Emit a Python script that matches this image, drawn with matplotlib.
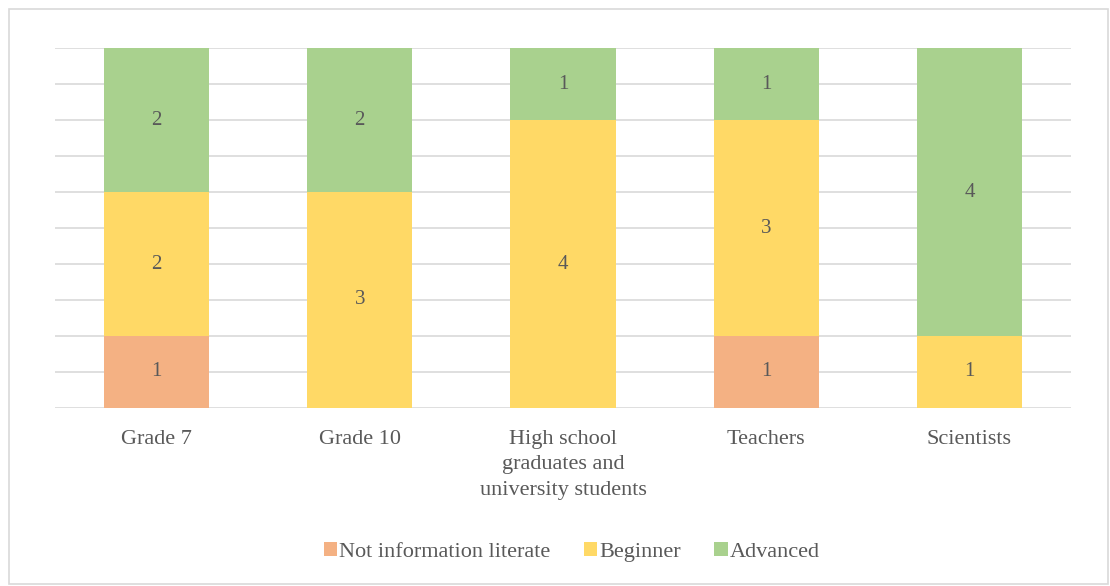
import numpy as np
import matplotlib.pyplot as plt
from matplotlib.patches import Rectangle

categories = ["Grade 7", "Grade 10", "High school\ngraduates and\nuniversity students",
              "Teachers", "Scientists"]
not_literate = [1, 0, 0, 1, 0]
beginner = [2, 3, 4, 3, 1]
advanced = [2, 2, 1, 1, 4]

series = [("Not information literate", not_literate, "#F4B183"),
          ("Beginner", beginner, "#FFD966"),
          ("Advanced", advanced, "#A9D18E")]

text_col = "#595959"
plt.rcParams['font.family'] = ['Liberation Serif', 'DejaVu Serif']

fig = plt.figure(figsize=(11.1, 5.86), dpi=100)
ax = fig.add_axes([0.0495, 0.3038, 0.9154, 0.6142])

# outer chart border
fig.patches.append(Rectangle((9/1110, 2/586), 1099/1110, 575/586, transform=fig.transFigure,
                             fill=False, edgecolor="#D9D9D9", linewidth=1.2))

x = np.arange(len(categories))
bottom = np.zeros(len(categories))
for name, vals, col in series:
    vals = np.array(vals, dtype=float)
    bars = ax.bar(x, vals, 0.517, bottom=bottom, color=col, label=name, zorder=2)
    for xi, b, v in zip(x, bottom, vals):
        if v > 0:
            ax.text(xi, b + v / 2, f"{int(v)}", ha="center", va="center",
                    fontsize=15, color=text_col, zorder=3)
    bottom += vals

ax.set_xlim(-0.5, 4.5)
ax.set_ylim(0, 5)
ax.set_yticks(np.arange(0, 5.01, 0.5))
ax.yaxis.grid(True, color="#D9D9D9", linewidth=1.2, zorder=0)
ax.set_axisbelow(True)
ax.tick_params(axis="y", left=False, labelleft=False)
ax.tick_params(axis="x", bottom=False, labelsize=16, labelcolor=text_col, pad=12)
ax.set_xticks(x)
ax.set_xticklabels(categories, linespacing=1.47, va="top")
for s in ax.spines.values():
    s.set_visible(False)

leg = fig.legend(loc="center", bbox_to_anchor=(0.515, 1 - 552/586), ncol=3, frameon=False,
                 fontsize=16, handlelength=0.6, handleheight=0.6, handletextpad=0.1,
                 columnspacing=1.5, labelcolor=text_col)

fig.savefig("out.png", dpi=100)
